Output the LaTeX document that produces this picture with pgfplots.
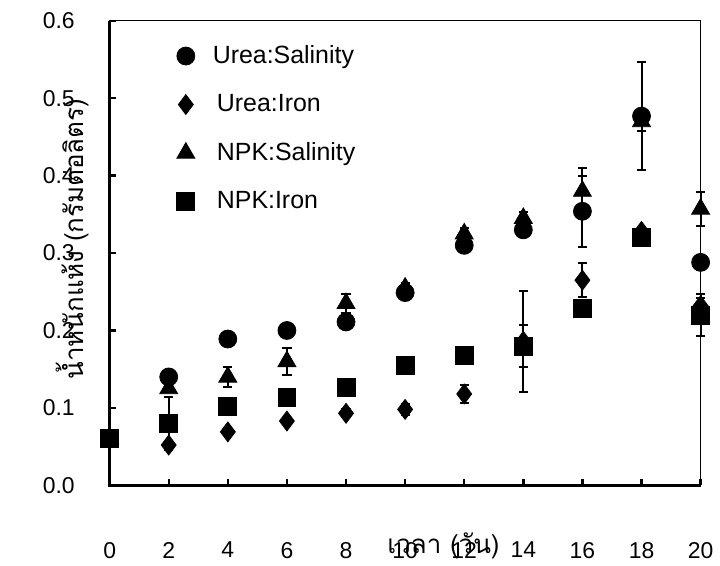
\documentclass[border=0pt]{standalone}
\usepackage{pgfplots}
\pgfplotsset{compat=1.18}
\usepackage{fontspec}
\setmainfont{Liberation Sans}
\newfontfamily\thai[Script=Thai]{Loma}

\begin{document}
\begin{tikzpicture}
\begin{axis}[
    scale only axis,
    width=296.5pt, height=233pt,
    xmin=0, xmax=20, ymin=0, ymax=0.6,
    xtick={0,2,...,20},
    ytick={0,0.1,...,0.6},
    yticklabel style={/pgf/number format/fixed, /pgf/number format/precision=1,
        /pgf/number format/fixed zerofill, xshift=-14pt},
    xticklabel style={yshift=-25pt},
    /pgf/number format/assume math mode=true,
    tick label style={font=\fontsize{11.5}{13}\selectfont},
    tick align=inside,
    xtick pos=bottom, ytick pos=left,
    major tick length=3pt,
    every tick/.style={black, line width=1.2pt},
    axis line style={line width=0.5pt},
    clip=false,
    xlabel={\thai\fontsize{13}{15}\selectfont เวลา (วัน)},
    xlabel style={at={(rel axis cs:0.565,-0.131)}, anchor=center},
    ylabel={\thai\fontsize{13}{15}\selectfont น้ำหนักแห้ง (กรัมต่อลิตร)},
    ylabel style={at={(rel axis cs:-0.062,0.53)}, anchor=center, rotate=0},
    legend style={draw=none, fill=none, at={(rel axis cs:0.103,0.965)}, anchor=north west,
        font=\fontsize{12.5}{14}\selectfont, row sep=10pt,
        /tikz/every odd column/.append style={column sep=7pt}},
    legend cell align=left,
    error bars/y dir=both, error bars/y explicit,
    error bars/error mark options={rotate=90, mark size=2.3pt, line width=1pt},
    error bars/error bar style={line width=1pt},
]
\addplot[only marks, mark=*, mark size=4.5pt, black] coordinates {
    (0,0.06) +- (0,0)
    (2,0.140) +- (0,0.005)
    (4,0.189) +- (0,0.005)
    (6,0.200) +- (0,0.005)
    (8,0.211) +- (0,0.005)
    (10,0.249) +- (0,0.008)
    (12,0.310) +- (0,0.008)
    (14,0.330) +- (0,0.008)
    (16,0.354) +- (0,0.046)
    (18,0.477) +- (0,0.070)
    (20,0.288) +- (0,0.010)
};
\addlegendentry{Urea:Salinity}
\addplot[only marks, mark=diamond*, mark size=5pt, black] coordinates {
    (0,0.06) +- (0,0)
    (2,0.052) +- (0,0.004)
    (4,0.069) +- (0,0.004)
    (6,0.083) +- (0,0.004)
    (8,0.093) +- (0,0.005)
    (10,0.098) +- (0,0.007)
    (12,0.118) +- (0,0.012)
    (14,0.186) +- (0,0.065)
    (16,0.265) +- (0,0.022)
    (18,0.328) +- (0,0.005)
    (20,0.232) +- (0,0.010)
};
\addlegendentry{\,Urea:Iron}
\addplot[only marks, mark=triangle*, mark size=5.2pt, black] coordinates {
    (0,0.06) +- (0,0)
    (2,0.125) +- (0,0.005)
    (4,0.140) +- (0,0.013)
    (6,0.160) +- (0,0.018)
    (8,0.235) +- (0,0.012)
    (10,0.255) +- (0,0.006)
    (12,0.325) +- (0,0.008)
    (14,0.345) +- (0,0.008)
    (16,0.380) +- (0,0.030)
    (18,0.470) +- (0,0.012)
    (20,0.357) +- (0,0.022)
};
\addlegendentry{\,NPK:Salinity}
\addplot[only marks, mark=square*, mark size=4.5pt, black] coordinates {
    (0,0.06) +- (0,0)
    (2,0.080) +- (0,0.034)
    (4,0.102) +- (0,0.005)
    (6,0.114) +- (0,0.005)
    (8,0.127) +- (0,0.005)
    (10,0.155) +- (0,0.005)
    (12,0.168) +- (0,0.005)
    (14,0.180) +- (0,0.027)
    (16,0.228) +- (0,0.008)
    (18,0.320) +- (0,0.005)
    (20,0.220) +- (0,0.027)
};
\addlegendentry{\,NPK:Iron}
\draw[line width=1.6pt] (rel axis cs:0,1) -- (rel axis cs:0,0) -- (rel axis cs:1,0);
\path (rel axis cs:-0.1855,-0.1567) rectangle (rel axis cs:1.0287,1.045);
\end{axis}
\end{tikzpicture}
\end{document}
